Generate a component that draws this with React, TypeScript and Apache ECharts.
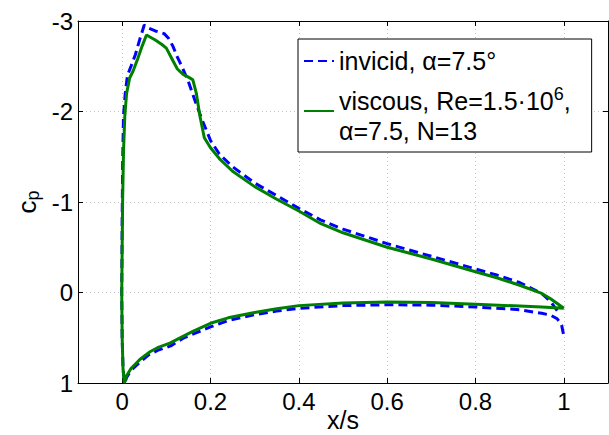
import React, { useEffect, useRef } from "react";
import * as echarts from "echarts";

// ---- data (x/s, cp) ----
const invisName = "invicid, α=7.5°";
const viscName = "viscous, Re=1.5·10⁶, α=7.5, N=13";

const invisX = [0.985, 0.97, 0.95, 0.9, 0.85, 0.8, 0.7, 0.6, 0.5, 0.45, 0.4, 0.35, 0.3, 0.25, 0.22, 0.2, 0.18, 0.165, 0.15, 0.135, 0.125, 0.115, 0.105, 0.095, 0.075, 0.06, 0.05, 0.04, 0.03, 0.02, 0.012, 0.007, 0.003, 0.001, 0.0, -0.001, 0.0, 0.002, 0.006,
  0.01, 0.02, 0.04, 0.06, 0.08, 0.11, 0.14, 0.17, 0.2, 0.24, 0.3, 0.35, 0.4, 0.5, 0.6, 0.7, 0.8, 0.9, 0.95, 0.97, 0.985, 0.995, 1.0];
const invisCp = [0.2, 0.1, 0.01, -0.11, -0.19, -0.26, -0.4, -0.54, -0.7, -0.8, -0.93, -1.07, -1.21, -1.39, -1.53, -1.68, -1.92, -2.12, -2.33, -2.5, -2.6, -2.72, -2.81, -2.86, -2.89, -2.92, -2.955, -2.8, -2.63, -2.5, -2.4, -2.2, -1.95, -1.4, -0.8, 0.0, 0.5, 0.85, 1.0,
  0.94, 0.86, 0.77, 0.69, 0.64, 0.59, 0.5, 0.44, 0.38, 0.31, 0.245, 0.205, 0.175, 0.145, 0.135, 0.14, 0.16, 0.19, 0.23, 0.25, 0.29, 0.36, 0.48];

const viscX = [1.0, 0.97, 0.95, 0.9, 0.85, 0.8, 0.7, 0.6, 0.5, 0.45, 0.4, 0.35, 0.3, 0.25, 0.22, 0.2, 0.186, 0.176, 0.168, 0.16, 0.15, 0.138, 0.125, 0.115, 0.1, 0.09, 0.075, 0.055, 0.045, 0.035, 0.025, 0.017, 0.01, 0.006, 0.003, 0.001, 0.0, -0.001, 0.0, 0.002, 0.005,
  0.01, 0.02, 0.04, 0.063, 0.08, 0.108, 0.14, 0.16, 0.2, 0.24, 0.3, 0.35, 0.4, 0.5, 0.6, 0.7, 0.8, 0.9, 0.95, 1.0];
const viscCp = [0.175, 0.07, 0.01, -0.08, -0.16, -0.23, -0.37, -0.5, -0.66, -0.76, -0.9, -1.03, -1.17, -1.34, -1.48, -1.6, -1.71, -1.95, -2.2, -2.35, -2.38, -2.41, -2.47, -2.56, -2.7, -2.74, -2.79, -2.845, -2.72, -2.58, -2.45, -2.37, -2.2, -1.95, -1.55, -1.0, -0.5, 0.0, 0.5, 0.85, 1.0,
  0.92, 0.84, 0.74, 0.655, 0.61, 0.56, 0.48, 0.43, 0.34, 0.28, 0.22, 0.18, 0.145, 0.115, 0.105, 0.11, 0.13, 0.15, 0.16, 0.175];

const xTicks = [0, 0.2, 0.4, 0.6, 0.8, 1];
const yTicks = [-3, -2, -1, 0, 1];

const FONT = "Liberation Sans, Arial, Helvetica, sans-serif";

export default function App() {
  const ref = useRef<HTMLDivElement>(null);
  useEffect(() => {
    if (!ref.current) return;
    const chart = echarts.init(ref.current, null, { renderer: "svg" });
    const fmtX = (v: number) => {
      const r = Math.round(v * 10) / 10;
      return xTicks.some((t) => Math.abs(t - r) < 1e-6) && Math.abs(v - r) < 1e-6 ? String(r) : "";
    };
    const grid = "#c4c4c4";
    const baseX = {
      type: "value" as const,
      min: -0.1,
      max: 1.1,
      interval: 0.1,
      axisLine: { show: true, onZero: false, lineStyle: { color: "#000", width: 1 } },
      axisTick: { show: true, inside: true, length: 5, customValues: xTicks, lineStyle: { color: "#000" } },
    };
    const baseY = {
      type: "value" as const,
      min: yTicks[0],
      max: yTicks[yTicks.length - 1],
      interval: 1,
      inverse: true,
      axisLine: { show: true, onZero: false, lineStyle: { color: "#000", width: 1 } },
      axisTick: { show: true, inside: true, length: 5, lineStyle: { color: "#000" } },
    };
    chart.setOption({
      animation: false,
      backgroundColor: "#fff",
      textStyle: { fontFamily: FONT },
      grid: { left: 78, top: 21, right: 1, bottom: 52, containLabel: false, outerBoundsMode: "none" },
      xAxis: [
        {
          ...baseX,
          position: "bottom",
          name: "x/s",
          nameLocation: "middle",
          nameGap: 24,
          nameMoveOverlap: false,
          nameTextStyle: { fontSize: 25, color: "#000", fontFamily: FONT },
          axisLabel: { show: true, customValues: xTicks, formatter: fmtX, fontSize: 24, color: "#000", margin: 6, fontFamily: FONT },
          splitLine: { show: true, lineStyle: { color: grid, type: [1, 3], width: 1 } },
        },
        {
          ...baseX,
          position: "top",
          axisLabel: { show: false },
          splitLine: { show: false },
        },
      ],
      yAxis: [
        {
          ...baseY,
          position: "left",
          name: "{c|c}{p|p}",
          nameLocation: "middle",
          nameGap: 36,
          nameMoveOverlap: false,
          nameTextStyle: {
            color: "#000",
            fontFamily: FONT,
            rich: {
              c: { fontSize: 26, color: "#000", fontFamily: FONT },
              p: { fontSize: 18, color: "#000", fontFamily: FONT, padding: [12, 0, 0, 0] },
            },
          },
          axisLabel: { show: true, fontSize: 24, color: "#000", margin: 5, fontFamily: FONT },
          splitLine: { show: true, lineStyle: { color: grid, type: [1, 3], width: 1 } },
        },
        {
          ...baseY,
          position: "right",
          axisLabel: { show: false },
          splitLine: { show: false },
        },
      ],
      legend: {
        orient: "vertical",
        left: 298,
        top: 39,
        backgroundColor: "#fff",
        borderColor: "#000",
        borderWidth: 1,
        borderRadius: 0,
        padding: [7, 21, 6, 5],
        itemWidth: 30,
        itemHeight: 14,
        itemGap: 0,
        itemStyle: { opacity: 0 },
        data: [invisName, viscName],
        formatter: (name: string) =>
          name === viscName
            ? "{g| }\n{t|viscous, Re=1.5·10}{s|6}{t|,}\n{t|α=7.5, N=13}"
            : "{t|" + name + "}",
        textStyle: {
          fontFamily: FONT,
          color: "#000",
          fontSize: 25,
          lineHeight: 30,
          rich: {
            g: { fontSize: 2, lineHeight: 10, height: 10, color: "#000", fontFamily: FONT },
            t: { fontSize: 25, lineHeight: 30, color: "#000", fontFamily: FONT },
            s: { fontSize: 18, lineHeight: 30, color: "#000", fontFamily: FONT, padding: [0, 0, 14, 0] },
          },
        },
      },
      series: [
        {
          name: invisName,
          type: "line",
          xAxisIndex: 0,
          yAxisIndex: 0,
          data: invisX.map((x, i) => [x, invisCp[i]]),
          symbol: "none",
          smooth: false,
          lineStyle: { color: "#0000ff", width: 3, type: [9, 5] },
          itemStyle: { color: "#0000ff" },
          z: 2,
        },
        {
          name: viscName,
          type: "line",
          xAxisIndex: 0,
          yAxisIndex: 0,
          data: viscX.map((x, i) => [x, viscCp[i]]),
          symbol: "none",
          smooth: false,
          lineStyle: { color: "#008000", width: 3 },
          itemStyle: { color: "#008000" },
          z: 3,
        },
      ],
    });
    return () => chart.dispose();
  }, []);
  return <div ref={ref} style={{ position: "absolute", left: 0, top: 0, width: 609, height: 435 }} />;
}
